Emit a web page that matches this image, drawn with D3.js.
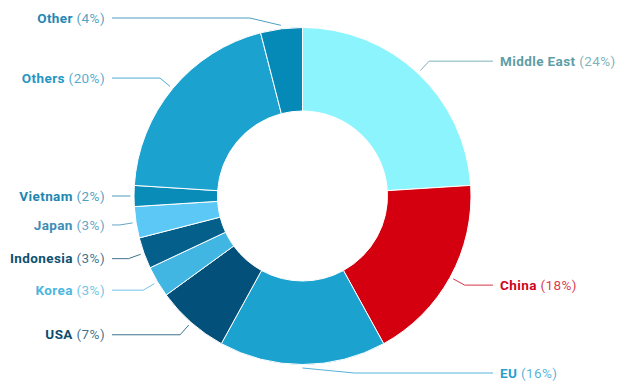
<!DOCTYPE html>
<html>
<head>
<meta charset="utf-8">
<script src="https://cdn.jsdelivr.net/npm/d3@7"></script>
<style>
  body { margin: 0; background: #fff; }
  .donut text { font-family: Roboto, "Noto Sans", sans-serif; font-size: 13.5px; letter-spacing: 0.4px; }
</style>
</head>
<body>
<div class="donut"></div>
<script>
(function() {
  'use strict';

  var width = 631;
  var height = 390;

  var regions = ["Middle East", "China", "EU", "USA", "Korea", "Indonesia", "Japan", "Vietnam", "Others", "Other"];
  var shares = [24, 18, 16, 7, 3, 3, 3, 2, 20, 4];
  var sliceColors = ["#8cf4fd", "#d4000f", "#1ba2cf", "#03507a", "#41b6e3", "#04608a", "#5bc8f5", "#0a8cb8", "#1ca2cf", "#0589b6"];
  var labelColors = ["#5d9ea6", "#d0021b", "#2a9fcf", "#0d4d6e", "#4db6e0", "#0e5070", "#3e8db5", "#1d86b0", "#2596c4", "#1f88b3"];

  var data = regions.map(function(r, i) {
    return { region: r, share: shares[i], color: sliceColors[i], label: labelColors[i] };
  });

  var cx = 302.5, cy = 196,
    radius = 168.5,
    inner = 85;

  var svg = d3.select(".donut").append("svg")
    .attr("width", width)
    .attr("height", height);

  var g = svg.append("g")
    .attr("transform", "translate(" + cx + "," + cy + ")");

  var pie = d3.pie()
    .sort(null)
    .value(function(d) { return d.share; });

  var path = d3.arc()
    .outerRadius(radius)
    .innerRadius(inner);

  var startArc = d3.arc().outerRadius(172).innerRadius(172);
  var elbowArc = d3.arc().outerRadius(185).innerRadius(185);

  var arcs = pie(data);

  g.selectAll(".slice")
    .data(arcs)
    .enter().append("path")
    .attr("class", "slice")
    .attr("d", path)
    .attr("fill", function(d) { return d.data.color; })
    .attr("stroke", "#fff")
    .attr("stroke-width", 1);

  // label anchors, kept inside the picture
  var topY = 18 - cy, bottomY = 373 - cy;

  arcs.forEach(function(d) {
    var mid = (d.startAngle + d.endAngle) / 2;
    var right = mid <= Math.PI;
    var s = startArc.centroid(d);
    var e = elbowArc.centroid(d);
    var dir = right ? 1 : -1;
    if (e[1] < topY || e[1] > bottomY) {
      e[1] = Math.max(topY, Math.min(bottomY, e[1]));
      e[0] = s[0] + dir * (e[1] < 0 ? 31 : 52);
    }
    var endX = right ? 493 - cx : 112 - cx;
    d.right = right;
    d.pts = [s, e, [endX, e[1]]];
    d.textX = right ? 500 - cx : 105 - cx;
  });

  var line = d3.line();

  g.selectAll(".leader")
    .data(arcs)
    .enter().append("path")
    .attr("class", "leader")
    .attr("d", function(d) { return line(d.pts); })
    .attr("fill", "none")
    .attr("stroke", function(d) { return d.data.label; })
    .attr("stroke-opacity", 0.8)
    .attr("stroke-width", 1);

  var label = g.selectAll(".label")
    .data(arcs)
    .enter().append("text")
    .attr("class", "label")
    .attr("x", function(d) { return d.textX; })
    .attr("y", function(d) { return d.pts[2][1]; })
    .attr("dy", "0.35em")
    .attr("text-anchor", function(d) { return d.right ? "start" : "end"; })
    .attr("fill", function(d) { return d.data.label; });

  label.append("tspan")
    .attr("font-weight", "bold")
    .text(function(d) { return d.data.region; });

  label.append("tspan")
    .attr("fill-opacity", 0.8)
    .text(function(d) { return " (" + d.data.share + "%)"; });

})();
</script>
</body>
</html>
